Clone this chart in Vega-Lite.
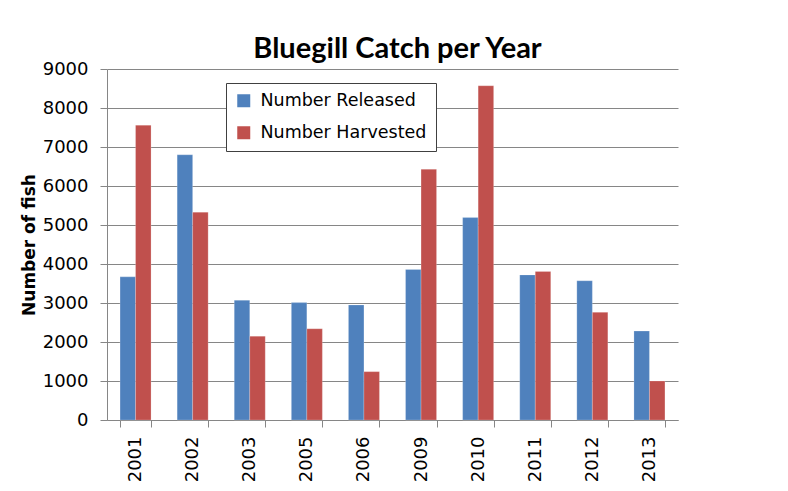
{
  "$schema": "https://vega.github.io/schema/vega-lite/v6.json",
  "width": 571,
  "height": 351,
  "autosize": {"type": "none"},
  "padding": {"left": 107, "top": 69, "right": 110, "bottom": 71},
  "background": "white",
  "title": {
    "text": "Bluegill Catch per Year",
    "font": "Lato",
    "fontSize": 29,
    "fontWeight": "bold",
    "color": "black",
    "anchor": "middle",
    "frame": "group",
    "baseline": "bottom",
    "offset": -33,
    "dx": 5
  },
  "data": {
    "values": [
      {"year": "2001", "series": "Number Released", "value": 3670},
      {"year": "2001", "series": "Number Harvested", "value": 7560},
      {"year": "2002", "series": "Number Released", "value": 6800},
      {"year": "2002", "series": "Number Harvested", "value": 5330},
      {"year": "2003", "series": "Number Released", "value": 3070},
      {"year": "2003", "series": "Number Harvested", "value": 2150},
      {"year": "2005", "series": "Number Released", "value": 3010},
      {"year": "2005", "series": "Number Harvested", "value": 2340},
      {"year": "2006", "series": "Number Released", "value": 2950},
      {"year": "2006", "series": "Number Harvested", "value": 1240},
      {"year": "2009", "series": "Number Released", "value": 3860},
      {"year": "2009", "series": "Number Harvested", "value": 6430},
      {"year": "2010", "series": "Number Released", "value": 5190},
      {"year": "2010", "series": "Number Harvested", "value": 8570},
      {"year": "2011", "series": "Number Released", "value": 3720},
      {"year": "2011", "series": "Number Harvested", "value": 3810},
      {"year": "2012", "series": "Number Released", "value": 3570},
      {"year": "2012", "series": "Number Harvested", "value": 2760},
      {"year": "2013", "series": "Number Released", "value": 2280},
      {"year": "2013", "series": "Number Harvested", "value": 1000}
    ]
  },
  "mark": {"type": "bar", "stroke": "#ffffff", "strokeOpacity": 0.35, "strokeWidth": 0.6},
  "encoding": {
    "x": {
      "field": "year",
      "type": "nominal",
      "scale": {"paddingInner": 0.457, "paddingOuter": 0.2285},
      "axis": {
        "title": null,
        "labelAngle": -90,
        "labelFont": "DejaVu Sans",
        "labelFontSize": 18,
        "labelColor": "black",
        "labelPadding": 9,
        "tickBand": "extent",
        "tickSize": 7,
        "tickColor": "#868686",
        "domainColor": "#868686"
      }
    },
    "xOffset": {
      "field": "series",
      "type": "nominal",
      "sort": ["Number Released", "Number Harvested"],
      "scale": {"paddingInner": 0, "paddingOuter": 0}
    },
    "y": {
      "field": "value",
      "type": "quantitative",
      "scale": {"domain": [0, 9000], "nice": false},
      "axis": {
        "title": "Number of fish",
        "titleFont": "DejaVu Sans",
        "titleFontSize": 17,
        "titleFontWeight": "bold",
        "titleColor": "black",
        "titlePadding": 4,
        "values": [0, 1000, 2000, 3000, 4000, 5000, 6000, 7000, 8000, 9000],
        "format": "d",
        "labelFont": "DejaVu Sans",
        "labelFontSize": 18,
        "labelColor": "black",
        "labelPadding": 12,
        "tickSize": 7,
        "tickColor": "#868686",
        "domainColor": "#868686",
        "grid": true,
        "gridColor": "#868686",
        "gridWidth": 1
      }
    },
    "color": {
      "field": "series",
      "type": "nominal",
      "sort": ["Number Released", "Number Harvested"],
      "scale": {"domain": ["Number Released", "Number Harvested"], "range": ["#4F81BD", "#C0504D"]},
      "legend": {
        "title": null,
        "orient": "none",
        "legendX": 119,
        "legendY": 14,
        "symbolType": "square",
        "symbolSize": 169,
        "symbolStrokeWidth": 0,
        "labelFont": "DejaVu Sans",
        "labelFontSize": 17.5,
        "labelLimit": 400,
        "labelColor": "black",
        "labelOffset": 8,
        "rowPadding": 13,
        "padding": 9,
        "strokeColor": "#404040",
        "fillColor": "white"
      }
    }
  },
  "config": {
    "view": {"stroke": null},
    "axis": {"labelFlush": false}
  }
}
